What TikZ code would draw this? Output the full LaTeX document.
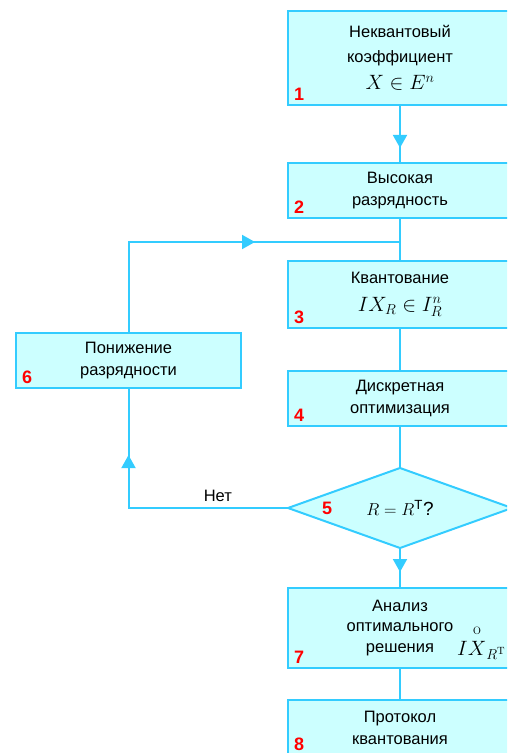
\documentclass[tikz,border=0pt]{standalone}
\usepackage{fontspec}
\setmainfont{Liberation Sans}
\usepackage{amsmath}
\usetikzlibrary{shapes.geometric, arrows.meta, positioning, decorations.markings}
\definecolor{flowline}{RGB}{51,204,255}
\definecolor{flowfill}{RGB}{204,255,255}
\newcommand{\seriftxt}[1]{\text{\fontfamily{lmr}\selectfont #1}}
\tikzstyle{block} = [rectangle, minimum width=224pt, minimum height=55pt, text centered, align=center, draw=flowline, line width=2pt, fill=flowfill, inner sep=0pt, outer sep=0pt, font=\fontsize{16.5}{22}\selectfont]
\tikzstyle{decision} = [diamond, aspect=2.8, minimum width=224pt, minimum height=80pt, inner sep=0pt, outer sep=0pt, draw=flowline, line width=2pt, fill=flowfill, font=\fontsize{19}{22}\selectfont]
\tikzstyle{numlab} = [anchor=base west, inner sep=0pt, text=red, font=\fontsize{18}{18}\bfseries\selectfont]
\tikzstyle{line} = [draw=flowline, line width=2pt]
\tikzset{midarrow/.style={postaction=decorate, decoration={markings, mark=at position #1 with {\arrow{Triangle[length=13pt,width=14pt]}}}}}

\begin{document}
\begin{tikzpicture}[x=1pt, y=-1pt]
        \clip (0,0) rectangle (507,753);

        \node (b1) [block, minimum height=94pt, font=\fontsize{16.5}{25}\selectfont] at (400,58) {
            Неквантовый\\коэффициент\\[2pt]{\fontsize{21}{22}\selectfont$X \in E^n$}
        };

        \node (b2) [block, below=58pt of b1] {
            Высокая\\разрядность
        };

        \node (b3) [block, below=43pt of b2, minimum height=67pt] {
            Квантование\\[6pt]{\fontsize{21}{22}\selectfont$IX_R \in I_R^n$}
        };

        \node (b4) [block, below=43pt of b3] {
            Дискретная\\оптимизация
        };

        \node (d5) [decision, below=42pt of b4] {
            $R = R^{\mathrm{T}}$?
        };

        \node (b7) [block, below=40pt of d5, minimum height=80pt, font=\fontsize{16.5}{20.5}\selectfont] {
            Анализ\\оптимального\\решения
        };

        \node (b8) [block, below=32pt of b7] {
            Протокол\\квантования
        };

        \node (b6) [block, minimum width=225pt] at (128.5,360.5) {
            Понижение\\разрядности
        };

        \node (optsol) [anchor=base west, inner sep=0pt, font=\fontsize{21}{21}\selectfont] at (457,655) {
            $I\overset{\text{\fontsize{17}{17}\fontfamily{lmr}\selectfont o}\rule[-4pt]{0pt}{0pt}}{X}_{R^{\seriftxt{T}}}$
        };

        % block numbers
        \node (n1) [numlab] at ([shift={(6pt,5pt)}]b1.south west) {1};
        \node (n2) [numlab] at ([shift={(6pt,5pt)}]b2.south west) {2};
        \node (n3) [numlab] at ([shift={(6pt,5pt)}]b3.south west) {3};
        \node (n4) [numlab] at ([shift={(6pt,5pt)}]b4.south west) {4};
        \node (n5) [numlab, anchor=west] at ([xshift=34pt]d5.west) {5};
        \node (n6) [numlab] at ([shift={(6pt,5pt)}]b6.south west) {6};
        \node (n7) [numlab] at ([shift={(6pt,5pt)}]b7.south west) {7};
        \node (n8) [numlab] at ([shift={(6pt,5pt)}]b8.south west) {8};

        \coordinate (join) at (400,242);

        \draw [line, midarrow=0.74] (b1) -- (b2);
        \draw [line] (b2) -- (b3);
        \draw [line] (b3) -- (b4);
        \draw [line] (b4) -- (d5);
        \draw [line, midarrow=0.6] (d5) -- (b7);
        \draw [line] (b7) -- (b8);
        \draw [line, midarrow=0.6] (b6.north) |- (join);
        \draw [line, midarrow=0.76] (d5.west) -| node[pos=0.22, above, inner sep=5pt, font=\fontsize{16.5}{22}\selectfont] (no) {Нет} (b6.south);
    \end{tikzpicture}
\end{document}
